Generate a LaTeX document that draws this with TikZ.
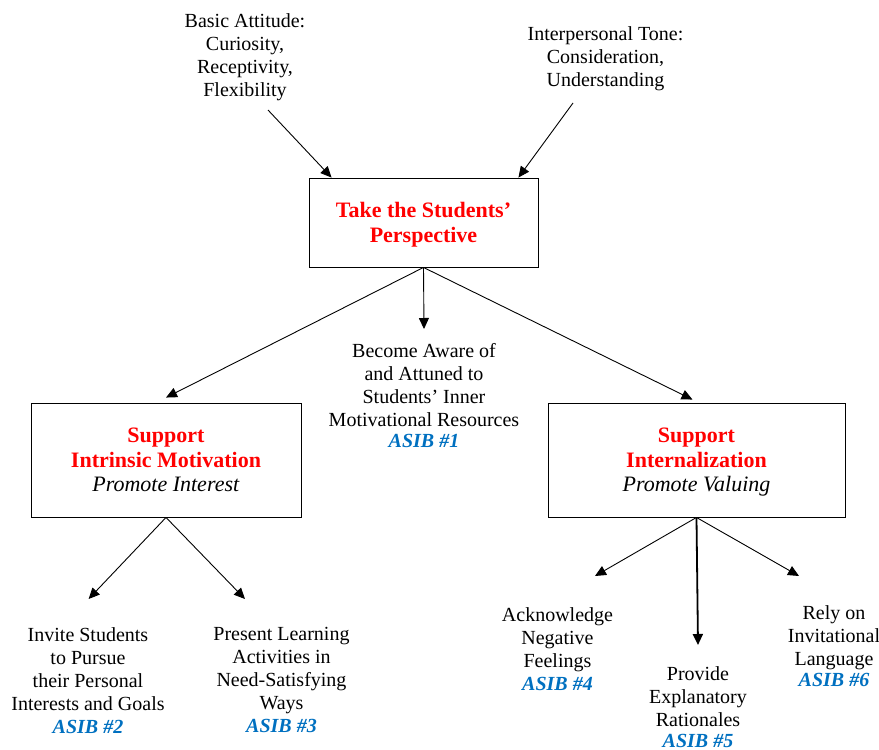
\documentclass[tikz,border=0pt]{standalone}
\usepackage{fontspec}
\setmainfont{Liberation Serif}
\usetikzlibrary{arrows.meta}
\definecolor{asib}{RGB}{0,112,192}
\definecolor{hred}{RGB}{255,0,0}
\newcommand{\rb}[1]{\textcolor{hred}{\textbf{#1}}}
\newcommand{\ab}[1]{\textcolor{asib}{\textbf{\textit{#1}}}}
\newcommand{\nodepth}[1]{\raisebox{0pt}[\height][0pt]{#1}}
\begin{document}
\begin{tikzpicture}[x=1pt,y=-1pt,
  txt/.style={align=center,inner sep=0pt,anchor=north,font=\fontsize{20}{23}\selectfont},
  box/.style={draw,line width=0.9pt,align=center,inner sep=0pt,font=\fontsize{22}{24.5}\selectfont},
  arr/.style={-{Triangle[length=11pt,width=10pt]},line width=0.9pt}]
\useasboundingbox (0,0) rectangle (879,750);

% top texts
\node[txt] (basic) at (245,13) {Basic Attitude:\\Curiosity,\\Receptivity,\\Flexibility};
\node[txt] (tone) at (605.5,26) {Interpersonal Tone:\\Consideration,\\Understanding};
\coordinate (bs) at (268,110);
\coordinate (ts) at (573,103);

% boxes
\node[box,minimum width=229pt,minimum height=89pt] (top) at (423.5,222.5)
  {\rb{Take the Students’}\\\nodepth{\rb{Perspective}}};
\node[box,minimum width=270pt,minimum height=114pt] (lbox) at (166,460)
  {\rb{Support}\\\rb{Intrinsic Motivation}\\\textit{Promote Interest}};
\node[box,minimum width=297pt,minimum height=114pt] (rbox) at (696.5,460)
  {\rb{Support}\\\rb{Internalization}\\\nodepth{\textit{Promote Valuing}}};

% middle text
\node[txt] (mid) at (424,343) {Become Aware of\\and Attuned to\\Students’ Inner\\Motivational Resources\\[-2pt]\ab{ASIB \#1}};

% bottom texts
\node[txt] (inv) at (88,627) {Invite Students\\to Pursue\\their Personal\\Interests and Goals\\\ab{ASIB \#2}};
\node[txt] (pres) at (281.5,627) {Present Learning\\Activities in\\Need-Satisfying\\Ways\\\ab{ASIB \#3}};
\node[txt] (ack) at (557.5,607) {Acknowledge\\Negative\\Feelings\\\ab{ASIB \#4}};
\node[txt] (prov) at (698,666) {Provide\\Explanatory\\Rationales\\[-2pt]\ab{ASIB \#5}};
\node[txt] (rely) at (834,605) {Rely on\\Invitational\\Language\\[-2pt]\ab{ASIB \#6}};

% arrows
\draw[arr] (bs) -- ([xshift=23pt]top.north west);
\draw[arr] (ts) -- ([xshift=-20pt]top.north east);
\draw[arr] (top.south) -- ([yshift=14pt]mid.north);
\draw[arr] (top.south) -- ([yshift=5pt]lbox.north);
\draw[arr] (top.south) -- ([xshift=-4pt,yshift=3pt]rbox.north);
\draw[arr] (lbox.south) -- ([xshift=0.6pt,yshift=28pt]inv.north);
\draw[arr] (lbox.south) -- ([xshift=-36.5pt,yshift=28pt]pres.north);
\draw[arr] (rbox.south) -- ([xshift=37.5pt,yshift=31pt]ack.north);
\draw[arr,line width=1.8pt] (rbox.south) -- ([yshift=21pt]prov.north);
\draw[arr] (rbox.south) -- ([xshift=-35pt,yshift=29pt]rely.north);
\end{tikzpicture}
\end{document}
